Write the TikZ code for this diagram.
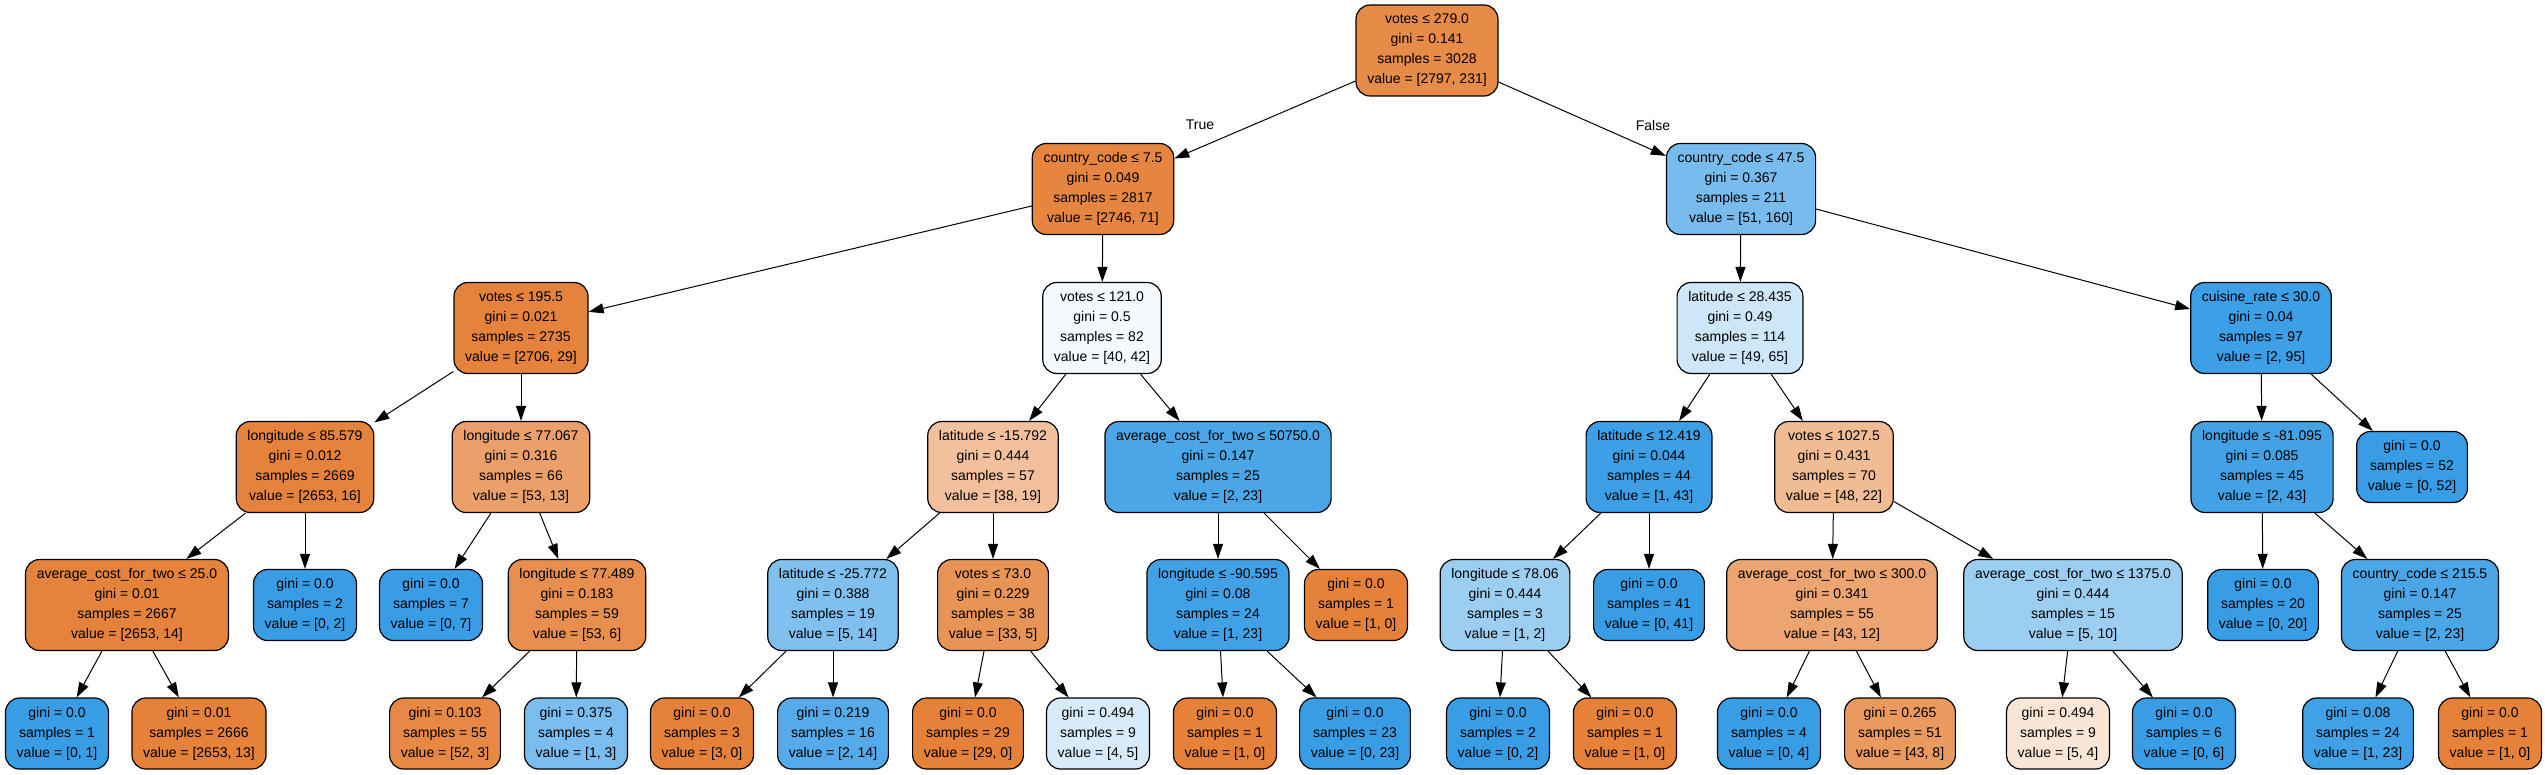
\documentclass[tikz,border=0pt]{standalone}
\usepackage{fontspec}
\setmainfont{Liberation Sans}
\usepackage{xcolor}
\usepackage{tikz}
\usetikzlibrary{arrows.meta}

\definecolor{dtor}{HTML}{E58139}
\definecolor{dtbl}{HTML}{399DE5}

\tikzset{
  treebox/.style={draw=black, line width=0.6pt, rounded corners=7pt, align=center,
    inner xsep=5.6pt, inner ysep=2pt, font=\fontsize{7}{10}\selectfont},
  split/.style={treebox, minimum height=45.5pt},
  leaf/.style={treebox, minimum height=35.5pt},
  lbl/.style={font=\fontsize{7}{10}\selectfont}
}

\begin{document}
\begin{tikzpicture}[x=0.5pt,y=-0.5pt,>={Triangle[length=7.5pt,width=5pt]},
  every edge/.append style={->, line width=0.5pt}]
\useasboundingbox (0,0) rectangle (2545,775);
% root
\node[split, fill=dtor!92] (votes279) at (1427,50.5) {votes ≤ 279.0\\gini = 0.141\\samples = 3028\\value = [2797, 231]};
% first split
\node[split, fill=dtor!97] (cc75) at (1103,189) {country\_code ≤ 7.5\\gini = 0.049\\samples = 2817\\value = [2746, 71]};
\node[split, fill=dtbl!68] (cc475) at (1741,189) {country\_code ≤ 47.5\\gini = 0.367\\samples = 211\\value = [51, 160]};
\node[lbl] (truelbl) at (1200,125) {True};
\node[lbl] (falselbl) at (1653,125) {False};
% level 2
\node[split, fill=dtor!99] (votes195) at (521,328) {votes ≤ 195.5\\gini = 0.021\\samples = 2735\\value = [2706, 29]};
\node[split, fill=dtbl!5] (votes121) at (1102,328) {votes ≤ 121.0\\gini = 0.5\\samples = 82\\value = [40, 42]};
\node[split, fill=dtbl!25] (lat28) at (1740,328) {latitude ≤ 28.435\\gini = 0.49\\samples = 114\\value = [49, 65]};
\node[split, fill=dtbl!98] (cuisine30) at (2261,328) {cuisine\_rate ≤ 30.0\\gini = 0.04\\samples = 97\\value = [2, 95]};
% level 3
\node[split, fill=dtor!99] (lon85) at (305,467) {longitude ≤ 85.579\\gini = 0.012\\samples = 2669\\value = [2653, 16]};
\node[split, fill=dtor!75] (lon77) at (521,467) {longitude ≤ 77.067\\gini = 0.316\\samples = 66\\value = [53, 13]};
\node[split, fill=dtor!50] (lat15) at (993,467) {latitude ≤ -15.792\\gini = 0.444\\samples = 57\\value = [38, 19]};
\node[split, fill=dtbl!91] (cost50750) at (1218,467) {average\_cost\_for\_two ≤ 50750.0\\gini = 0.147\\samples = 25\\value = [2, 23]};
\node[split, fill=dtbl!98] (lat12) at (1649,467) {latitude ≤ 12.419\\gini = 0.044\\samples = 44\\value = [1, 43]};
\node[split, fill=dtor!54] (votes1027) at (1834,467) {votes ≤ 1027.5\\gini = 0.431\\samples = 70\\value = [48, 22]};
\node[split, fill=dtbl!95] (lon81) at (2262,467) {longitude ≤ -81.095\\gini = 0.085\\samples = 45\\value = [2, 43]};
\node[leaf, fill=dtbl] (leaf52) at (2412,467) {gini = 0.0\\samples = 52\\value = [0, 52]};
% level 4
\node[split, fill=dtor!99] (cost25) at (127,605) {average\_cost\_for\_two ≤ 25.0\\gini = 0.01\\samples = 2667\\value = [2653, 14]};
\node[leaf, fill=dtbl] (leaf2) at (305,605) {gini = 0.0\\samples = 2\\value = [0, 2]};
\node[leaf, fill=dtbl] (leaf7) at (431,605) {gini = 0.0\\samples = 7\\value = [0, 7]};
\node[split, fill=dtor!89] (lon77b) at (577,605) {longitude ≤ 77.489\\gini = 0.183\\samples = 59\\value = [53, 6]};
\node[split, fill=dtbl!64] (lat25) at (833,605) {latitude ≤ -25.772\\gini = 0.388\\samples = 19\\value = [5, 14]};
\node[split, fill=dtor!85] (votes73) at (993,605) {votes ≤ 73.0\\gini = 0.229\\samples = 38\\value = [33, 5]};
\node[split, fill=dtbl!96] (lon90) at (1218,605) {longitude ≤ -90.595\\gini = 0.08\\samples = 24\\value = [1, 23]};
\node[leaf, fill=dtor] (leafr1) at (1356,605) {gini = 0.0\\samples = 1\\value = [1, 0]};
\node[split, fill=dtbl!50] (lon78) at (1505,605) {longitude ≤ 78.06\\gini = 0.444\\samples = 3\\value = [1, 2]};
\node[leaf, fill=dtbl] (leaf41) at (1649,605) {gini = 0.0\\samples = 41\\value = [0, 41]};
\node[split, fill=dtor!72] (cost300) at (1832,605) {average\_cost\_for\_two ≤ 300.0\\gini = 0.341\\samples = 55\\value = [43, 12]};
\node[split, fill=dtbl!50] (cost1375) at (2073,605) {average\_cost\_for\_two ≤ 1375.0\\gini = 0.444\\samples = 15\\value = [5, 10]};
\node[leaf, fill=dtbl] (leaf20) at (2263,605) {gini = 0.0\\samples = 20\\value = [0, 20]};
\node[split, fill=dtbl!91] (cc215) at (2420,605) {country\_code ≤ 215.5\\gini = 0.147\\samples = 25\\value = [2, 23]};
% level 5 (all leaves)
\node[leaf, fill=dtbl] (leaf1a) at (57,733.5) {gini = 0.0\\samples = 1\\value = [0, 1]};
\node[leaf, fill=dtor] (leaf2666) at (199,733.5) {gini = 0.01\\samples = 2666\\value = [2653, 13]};
\node[leaf, fill=dtor!94] (leaf55) at (445,733.5) {gini = 0.103\\samples = 55\\value = [52, 3]};
\node[leaf, fill=dtbl!67] (leaf4) at (576,733.5) {gini = 0.375\\samples = 4\\value = [1, 3]};
\node[leaf, fill=dtor] (leaf3) at (702,733.5) {gini = 0.0\\samples = 3\\value = [3, 0]};
\node[leaf, fill=dtbl!86] (leaf16) at (833,733.5) {gini = 0.219\\samples = 16\\value = [2, 14]};
\node[leaf, fill=dtor] (leaf29) at (968,733.5) {gini = 0.0\\samples = 29\\value = [29, 0]};
\node[leaf, fill=dtbl!20] (leaf9a) at (1098,733.5) {gini = 0.494\\samples = 9\\value = [4, 5]};
\node[leaf, fill=dtor] (leaf1b) at (1225,733.5) {gini = 0.0\\samples = 1\\value = [1, 0]};
\node[leaf, fill=dtbl] (leaf23) at (1355,733.5) {gini = 0.0\\samples = 23\\value = [0, 23]};
\node[leaf, fill=dtbl] (leaf2b) at (1498,733.5) {gini = 0.0\\samples = 2\\value = [0, 2]};
\node[leaf, fill=dtor] (leaf1c) at (1625,733.5) {gini = 0.0\\samples = 1\\value = [1, 0]};
\node[leaf, fill=dtbl] (leaf4b) at (1769,733.5) {gini = 0.0\\samples = 4\\value = [0, 4]};
\node[leaf, fill=dtor!81] (leaf51) at (1900,733.5) {gini = 0.265\\samples = 51\\value = [43, 8]};
\node[leaf, fill=dtor!20] (leaf9b) at (2058,733.5) {gini = 0.494\\samples = 9\\value = [5, 4]};
\node[leaf, fill=dtbl] (leaf6) at (2184,733.5) {gini = 0.0\\samples = 6\\value = [0, 6]};
\node[leaf, fill=dtbl!96] (leaf24) at (2358,733.5) {gini = 0.08\\samples = 24\\value = [1, 23]};
\node[leaf, fill=dtor] (leaf1d) at (2490,733.5) {gini = 0.0\\samples = 1\\value = [1, 0]};
% edges
\path (votes279) edge (cc75) edge (cc475);
\path (cc75) edge (votes195) edge (votes121);
\path (cc475) edge (lat28) edge (cuisine30);
\path (votes195) edge (lon85) edge (lon77);
\path (votes121) edge (lat15) edge (cost50750);
\path (lat28) edge (lat12) edge (votes1027);
\path (cuisine30) edge (lon81) edge (leaf52);
\path (lon85) edge (cost25) edge (leaf2);
\path (lon77) edge (leaf7) edge (lon77b);
\path (lat15) edge (lat25) edge (votes73);
\path (cost50750) edge (lon90) edge (leafr1);
\path (lat12) edge (lon78) edge (leaf41);
\path (votes1027) edge (cost300) edge (cost1375);
\path (lon81) edge (leaf20) edge (cc215);
\path (cost25) edge (leaf1a) edge (leaf2666);
\path (lon77b) edge (leaf55) edge (leaf4);
\path (lat25) edge (leaf3) edge (leaf16);
\path (votes73) edge (leaf29) edge (leaf9a);
\path (lon90) edge (leaf1b) edge (leaf23);
\path (lon78) edge (leaf2b) edge (leaf1c);
\path (cost300) edge (leaf4b) edge (leaf51);
\path (cost1375) edge (leaf9b) edge (leaf6);
\path (cc215) edge (leaf24) edge (leaf1d);
\end{tikzpicture}
\end{document}
